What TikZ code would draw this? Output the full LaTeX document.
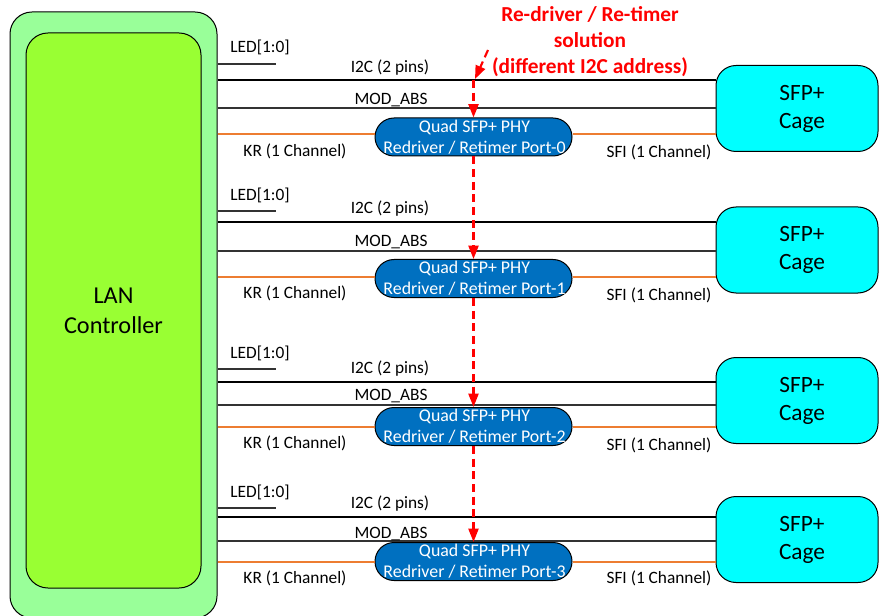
\documentclass[tikz,border=0pt]{standalone}
\usepackage{fontspec}
\setmainfont{Carlito}
\usetikzlibrary{arrows.meta,shapes.misc}
\definecolor{lanout}{HTML}{99FF99}
\definecolor{lanin}{HTML}{99FF33}
\definecolor{phyblue}{HTML}{0070C0}
\definecolor{cagecyan}{HTML}{00FFFF}
\definecolor{korange}{HTML}{ED7D31}
\begin{document}
\begin{tikzpicture}[x=0.75pt,y=-0.75pt,
  lbl/.style={font=\fontsize{13}{15}\selectfont, anchor=base, inner sep=0pt},
  phybox/.style={rounded rectangle, draw=black, line width=0.75pt, fill=phyblue,
    minimum width=147.75pt, minimum height=28.5pt, inner sep=0pt},
  phytext/.style={text=white, align=center, inner sep=0pt,
    font=\fontsize{13.4}{15.75}\selectfont},
  cagebox/.style={draw=black, line width=0.75pt, rounded corners=15pt, fill=cagecyan,
    minimum width=121.5pt, minimum height=64.5pt, inner sep=0pt},
  cagetext/.style={align=center, inner sep=0pt, font=\fontsize{17.5}{21}\selectfont},
  i2cline/.style={line width=1.9pt, black},
  thinline/.style={line width=0.9pt, black!80},
  krline/.style={line width=1.8pt, korange},
  redarrow/.style={red, line width=1.6pt, dash pattern=on 6pt off 3.5pt,
    -{Triangle[width=7.5pt,length=10pt]}},
]
\useasboundingbox (0,0) rectangle (880,616);
% LAN controller
\node[draw=black, line width=0.75pt, rounded corners=16.5pt, fill=lanout,
  minimum width=155.25pt, minimum height=454.5pt, inner sep=0pt] (lanout) at (113.5,315) {};
\node[draw=black, line width=0.75pt, rounded corners=16.5pt, fill=lanin,
  minimum width=131.25pt, minimum height=416.25pt, inner sep=0pt, align=center,
  font=\fontsize{18.2}{22.5}\selectfont] (lanin) at (113.5,310.5) {LAN\\Controller};
% rows
\foreach \r/\led/\ic/\md/\kr/\ph/\sf/\lb/\ib/\mb/\kb/\sb in {
  0/64/80/108/134/137/108.5/52.5/72.5/104.5/156.5/157.5,
  1/211/222/251/277/278.5/250/200.5/213.5/246.5/298.5/300.5,
  2/369/382/405/427/426.5/400.5/358.5/373.5/400.5/448.5/450.5,
  3/508/517/541/562/561.5/539.5/497.5/508.5/538.5/583.5/583.5}{
  \node[phybox] (phy\r) at (473.5,\ph) {};
  \node[phytext] (phytext\r) at (474.5,\ph) {Quad SFP+ PHY\\Redriver / Retimer Port-\r};
  \node[cagebox] (sfp\r) at (797,\sf) {};
  \node[cagetext] (sfptext\r) at (802,\sf) {SFP+\\Cage};
  \coordinate (ledend\r) at (276,\led);
  \coordinate (i2c\r) at (400,\ic);
  \coordinate (mod\r) at (400,\md);
  \coordinate (kr\r) at (400,\kr);
  \draw[thinline] (lanout.east |- ledend\r) -- (ledend\r);
  \draw[i2cline] (lanout.east |- i2c\r) -- (sfp\r.west |- i2c\r);
  \draw[thinline] (lanout.east |- mod\r) -- (sfp\r.west |- mod\r);
  \draw[krline] (lanout.east |- kr\r) -- (phy\r.west |- kr\r);
  \draw[krline] (phy\r.east |- kr\r) -- (sfp\r.west |- kr\r);
  \node[lbl] (ledlbl\r) at (260,\lb) {LED[1:0]};
  \node[lbl] (i2clbl\r) at (390,\ib) {I2C (2 pins)};
  \node[lbl] (modlbl\r) at (391,\mb) {MOD\_ABS};
  \node[lbl] (krlbl\r) at (295,\kb) {KR (1 Channel)};
  \node[lbl] (sfilbl\r) at (659,\sb) {SFI (1 Channel)};
}
% red note and arrows
\node[font=\bfseries\fontsize{16}{19.5}\selectfont, text=red, align=center, inner sep=0pt]
  (note) at (590,42) {Re-driver / Re-timer\\solution\\(different I2C address)};
\coordinate (rstart) at (488,50);
\coordinate (rtip) at (475,79);
\draw[redarrow] (rstart) -- (rtip);
\draw[redarrow] (phy0.north |- i2c0) -- (phy0.north);
\draw[redarrow] (phy0.south) -- (phy1.north);
\draw[redarrow] (phy1.south) -- (phy2.north);
\draw[redarrow] (phy2.south) -- (phy3.north);
\end{tikzpicture}
\end{document}
